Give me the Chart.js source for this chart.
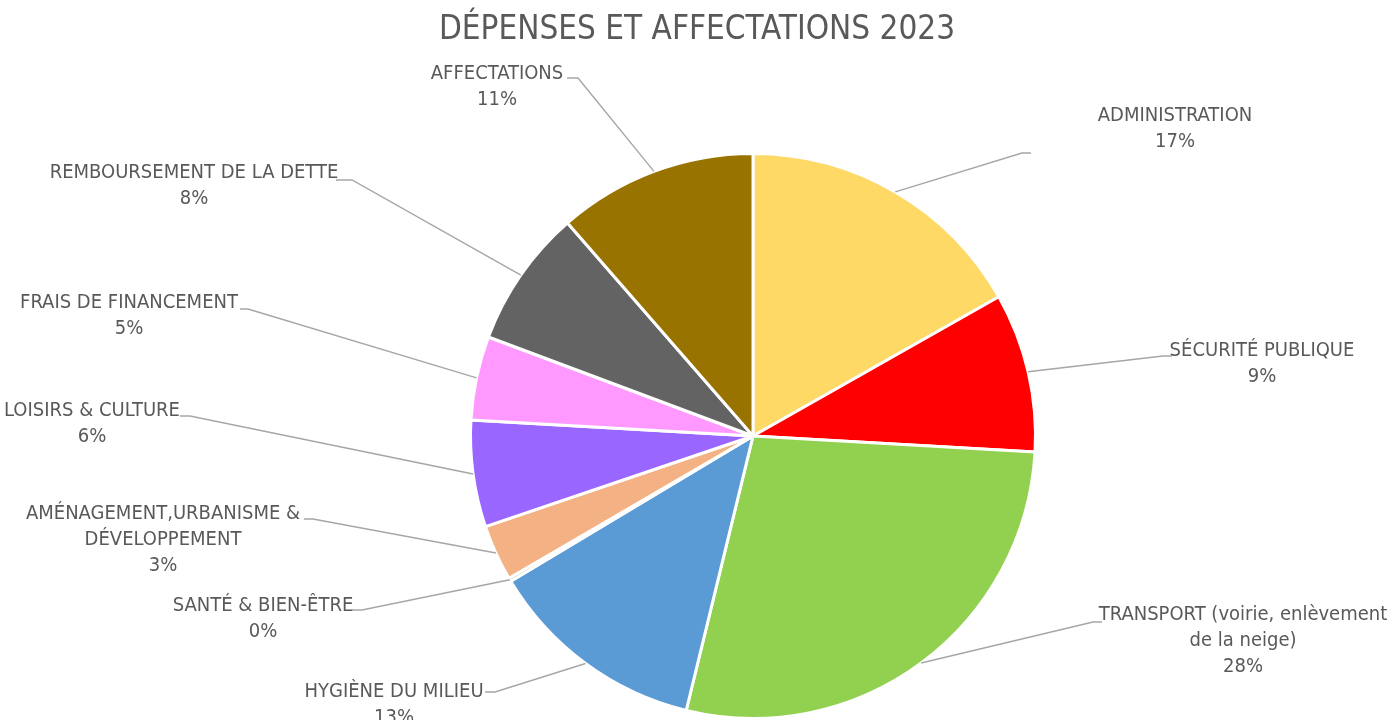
<!DOCTYPE html>
<html><head><meta charset="utf-8">
<script src="https://cdn.jsdelivr.net/npm/chart.js@4"></script>
<style>html,body{margin:0;padding:0;background:#fff;overflow:hidden}#wrap{width:1394px;height:720px;position:relative}</style>
</head><body><div id="wrap"><canvas id="c"></canvas></div>
<script>
const chartTitle = "DÉPENSES ET AFFECTATIONS 2023";
const categories = [
  ["ADMINISTRATION"],
  ["SÉCURITÉ PUBLIQUE"],
  ["TRANSPORT (voirie, enlèvement", "de la neige)"],
  ["HYGIÈNE DU MILIEU"],
  ["SANTÉ & BIEN-ÊTRE"],
  ["AMÉNAGEMENT,URBANISME &", "DÉVELOPPEMENT"],
  ["LOISIRS & CULTURE"],
  ["FRAIS DE FINANCEMENT"],
  ["REMBOURSEMENT DE LA DETTE"],
  ["AFFECTATIONS"]
];
const shares = [16.8, 9.1, 27.9, 12.6, 0.2, 3.2, 6.1, 4.8, 7.9, 11.4];
const sliceColors = ["#FFD966", "#FF0000", "#92D050", "#5B9BD5", "#A9D18E", "#F4B183", "#9966FF", "#FF99FF", "#636363", "#997300"];

// label placement (text centre of first line, leader elbow [xNearText, xElbow, y])
const labelLayout = [
  {x: 1175, y: 115, elbow: [1031, 1022, 153]},
  {x: 1262, y: 350, elbow: [1172, 1163, 356]},
  {x: 1243, y: 614, elbow: [1102, 1093, 622]},
  {x: 394,  y: 691, elbow: [485, 495, 692]},
  {x: 263,  y: 605, elbow: [352, 362, 610]},
  {x: 163,  y: 513, elbow: [304, 313, 519]},
  {x: 92,   y: 410, elbow: [180, 190, 416]},
  {x: 129,  y: 302, elbow: [240, 248, 309]},
  {x: 194,  y: 172, elbow: [336, 352, 180]},
  {x: 497,  y: 73,  elbow: [567, 578, 78]}
];

const FONT = "'Liberation Sans Narrow', 'Arial Narrow', 'DejaVu Sans Condensed', sans-serif";
const TEXT = "#595959";

const labelPlugin = {
  id: 'leaderLabels',
  afterDatasetsDraw(chart) {
    const ctx = chart.ctx;
    const meta = chart.getDatasetMeta(0);
    const total = shares.reduce((a, b) => a + b, 0);
    ctx.save();
    // title, centred on the whole canvas
    ctx.fillStyle = TEXT;
    ctx.font = "33px " + FONT;
    ctx.textAlign = "center";
    ctx.textBaseline = "middle";
    ctx.fillText(chartTitle, chart.width / 2, 30);
    meta.data.forEach((arc, i) => {
      const L = labelLayout[i];
      const mid = (arc.startAngle + arc.endAngle) / 2;
      const px = arc.x + Math.cos(mid) * arc.outerRadius;
      const py = arc.y + Math.sin(mid) * arc.outerRadius;
      ctx.strokeStyle = "#A6A6A6";
      ctx.lineWidth = 1.4;
      ctx.beginPath();
      ctx.moveTo(L.elbow[0], L.elbow[2]);
      ctx.lineTo(L.elbow[1], L.elbow[2]);
      ctx.lineTo(px, py);
      ctx.stroke();
      const lines = categories[i].concat([Math.round(shares[i] / total * 100) + "%"]);
      ctx.fillStyle = TEXT;
      ctx.font = "20px " + FONT;
      ctx.textAlign = "center";
      ctx.textBaseline = "middle";
      lines.forEach((t, k) => ctx.fillText(t, L.x, L.y + 1 + k * 26));
    });
    ctx.restore();
  }
};

new Chart(document.getElementById('c'), {
  type: 'pie',
  data: {
    labels: categories.map(c => c.join(' ')),
    datasets: [{
      data: shares,
      backgroundColor: sliceColors,
      borderColor: '#FFFFFF',
      borderWidth: 3
    }]
  },
  options: {
    responsive: true,
    maintainAspectRatio: false,
    animation: false,
    layout: {padding: {left: 468, right: 356, top: 152, bottom: 0}},
    plugins: {
      legend: {display: false},
      tooltip: {enabled: false},
      title: {display: false}
    }
  },
  plugins: [labelPlugin]
});
</script>
</body></html>
